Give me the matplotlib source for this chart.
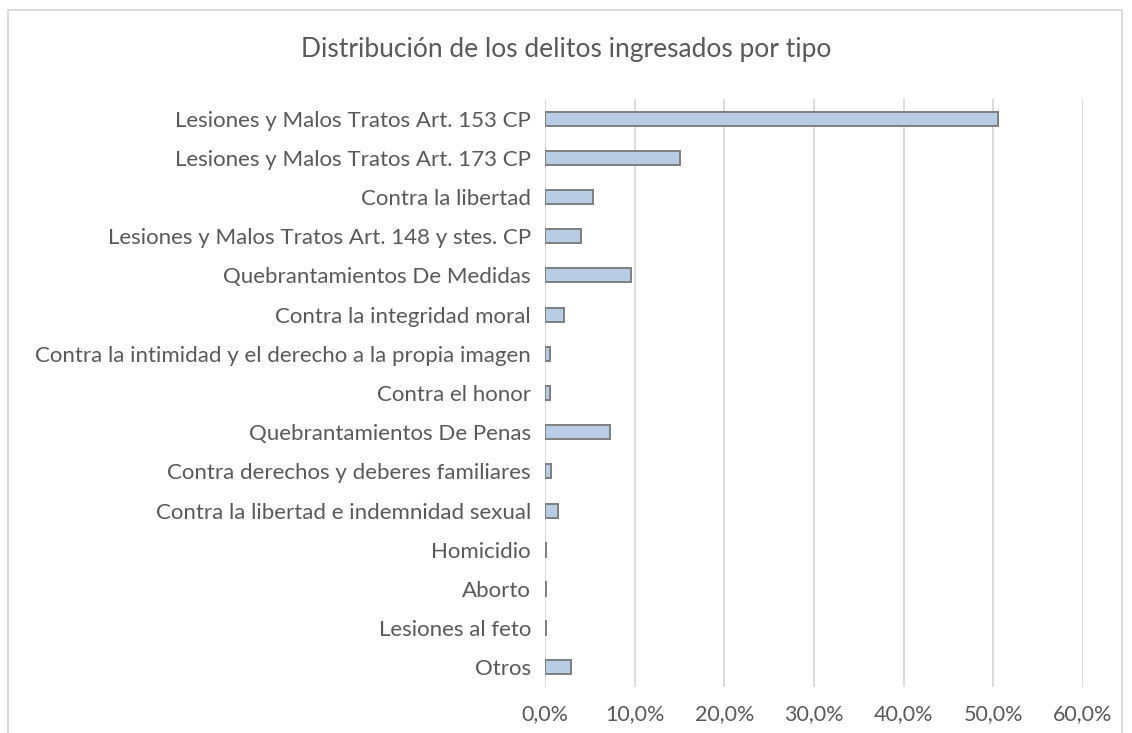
import matplotlib.pyplot as plt
from matplotlib.patches import Rectangle
from matplotlib.ticker import FuncFormatter

# Datos del gráfico
categorias = [
    "Lesiones y Malos Tratos Art. 153 CP",
    "Lesiones y Malos Tratos Art. 173 CP",
    "Contra la libertad",
    "Lesiones y Malos Tratos Art. 148 y stes. CP",
    "Quebrantamientos De Medidas",
    "Contra la integridad moral",
    "Contra la intimidad y el derecho a la propia imagen",
    "Contra el honor",
    "Quebrantamientos De Penas",
    "Contra derechos y deberes familiares",
    "Contra la libertad e indemnidad sexual",
    "Homicidio",
    "Aborto",
    "Lesiones al feto",
    "Otros",
]
porcentajes = [50.5, 15.1, 5.4, 4.0, 9.6, 2.1, 0.6, 0.6, 7.3, 0.7, 1.4, 0.08, 0.08, 0.08, 2.95]
ticks_x = [0, 10, 20, 30, 40, 50, 60]

texto = "#595959"
plt.rcParams['font.family'] = ['Lato', 'DejaVu Sans']

fig = plt.figure(figsize=(11.32, 7.33), dpi=100)
ax = fig.add_axes([545 / 1132, 1 - 687 / 733, (1083 - 545) / 1132, (687 - 99) / 733])

y = list(range(len(categorias)))
ax.barh(y, porcentajes, height=0.36, color="#b8cce4", edgecolor="#7f7f7f", linewidth=1.4, zorder=3)
ax.set_ylim(len(categorias) - 0.5, -0.5)
ax.set_yticks(y)
ax.set_yticklabels(categorias, fontsize=16, color=texto)
ax.set_xlim(0, 60)
ax.set_xticks(ticks_x)
ax.xaxis.set_major_formatter(FuncFormatter(lambda v, p: f"{v:.1f}%".replace(".", ",")))
ax.tick_params(axis="x", labelsize=15.5, labelcolor=texto, length=0, pad=12)
ax.tick_params(axis="y", length=0, pad=10)
ax.grid(axis="x", color="#d9d9d9", linewidth=1.3, zorder=0)
for s in ax.spines.values():
    s.set_visible(False)
ax.axvline(0, color="#d9d9d9", linewidth=1.3, zorder=1)

fig.text(0.5, 1 - 50 / 733, "Distribución de los delitos ingresados por tipo", ha="center", va="center",
         fontsize=19, color=texto)

# borde del gráfico
fig.patches.append(Rectangle((8 / 1132, -0.1), (1122 - 8) / 1132, 1.1 - 10 / 733,
                             transform=fig.transFigure, fill=False, edgecolor="#d9d9d9", linewidth=1.3))

fig.savefig("out.png", dpi=100)
